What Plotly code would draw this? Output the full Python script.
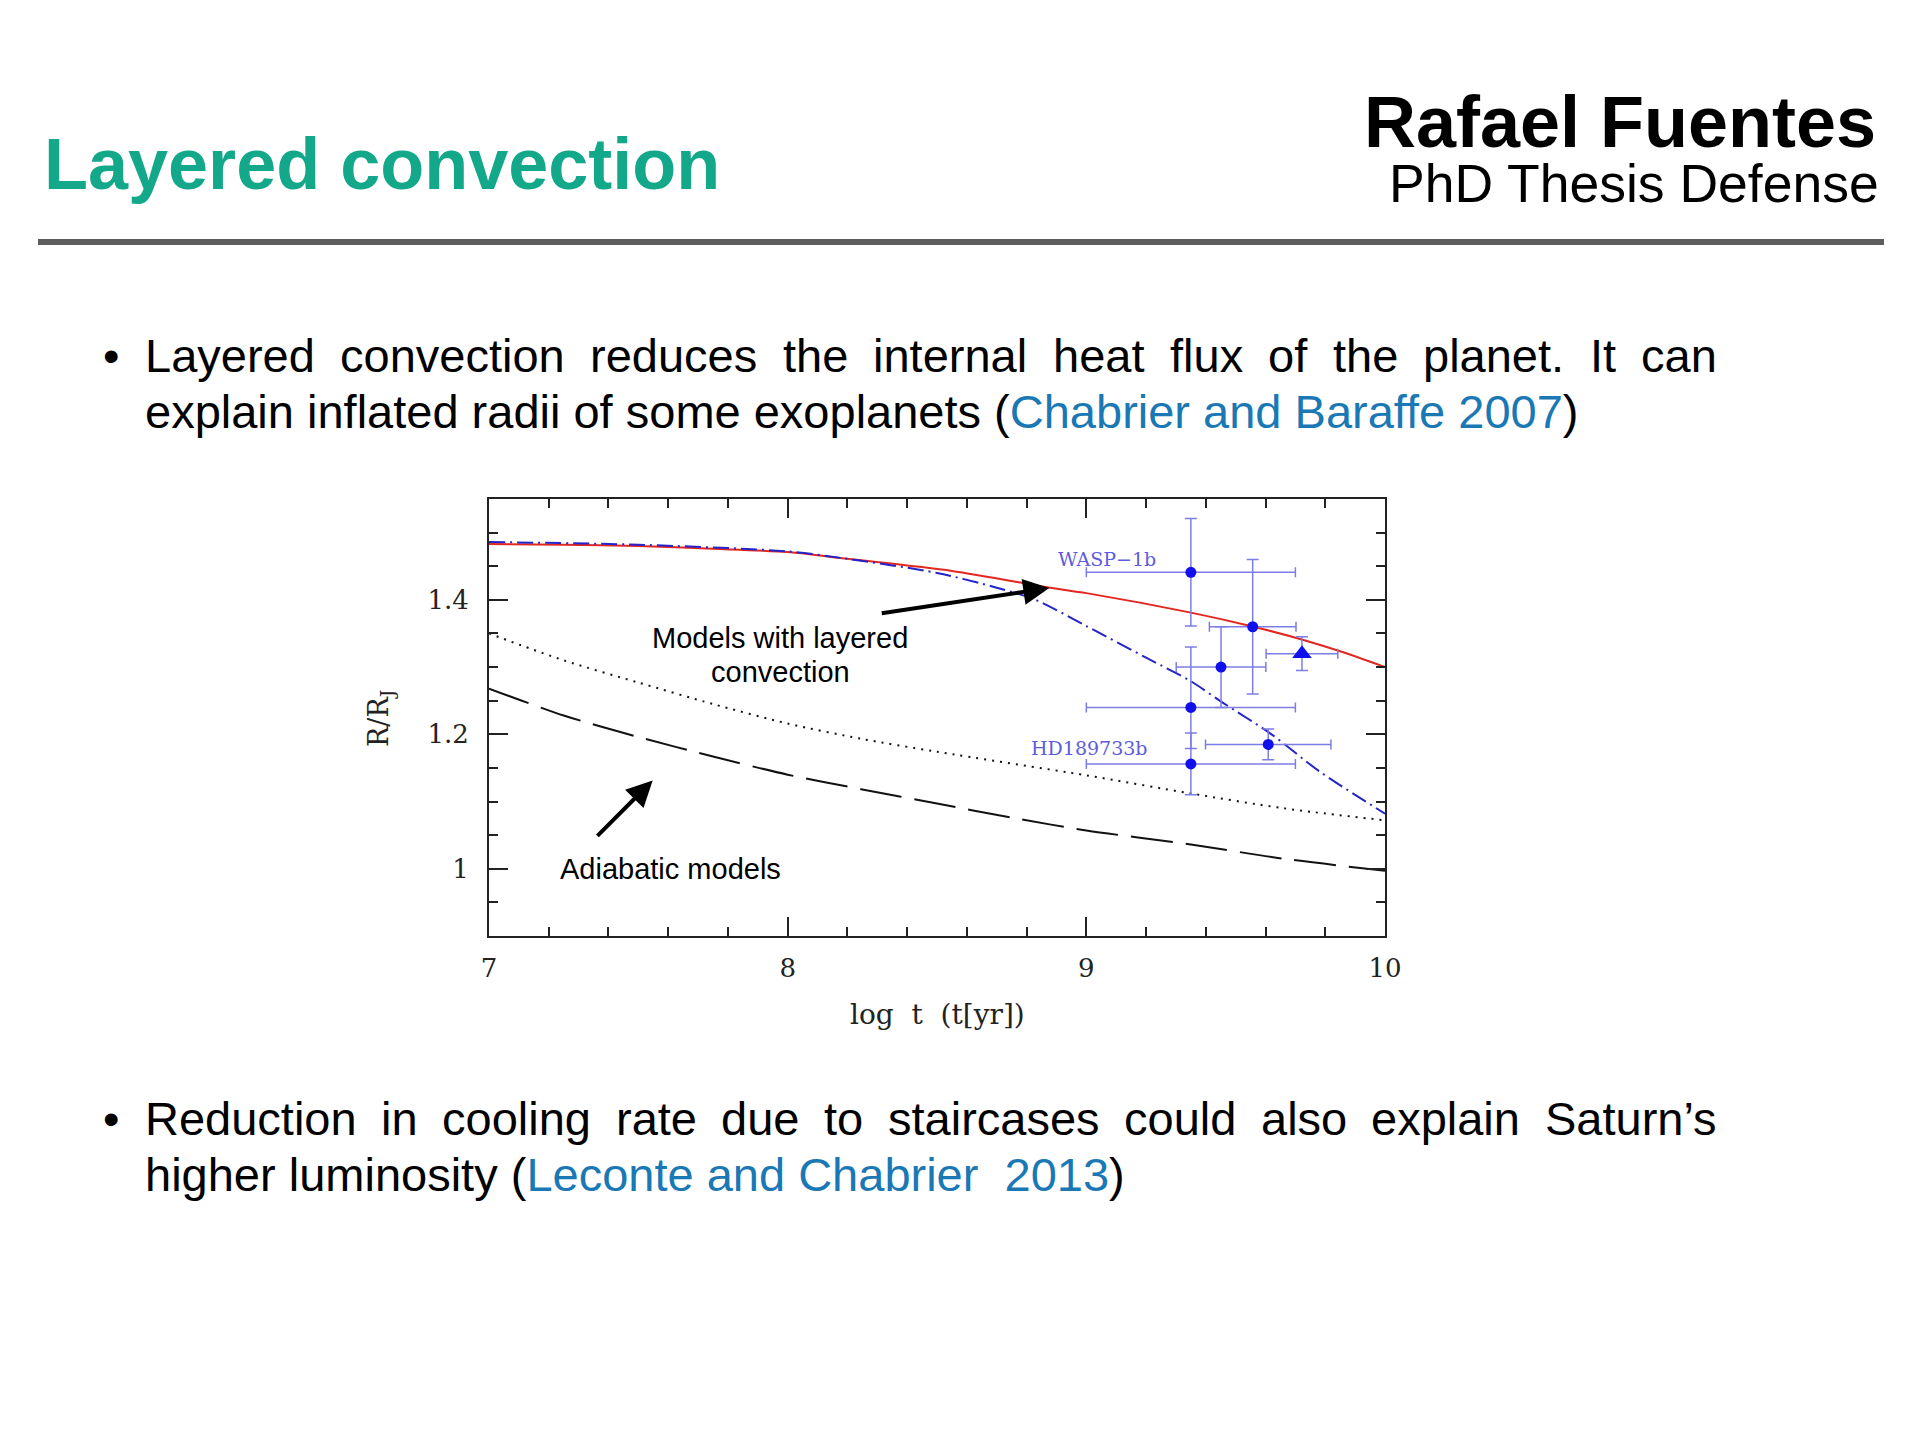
import plotly.graph_objects as go

# ---------------- data ----------------
# red solid: model with layered convection
logt_red = [7.0, 7.25, 7.5, 7.75, 8.0, 8.2, 8.55, 8.88, 9.0, 9.35, 9.56, 9.73, 9.86, 10.0]
r_red = [1.483, 1.482, 1.480, 1.476, 1.471, 1.461, 1.443, 1.418, 1.410, 1.381, 1.360, 1.340, 1.322, 1.300]

# blue dash-dot: model with layered convection
logt_blue = [7.0, 7.5, 8.0, 8.2, 8.5, 8.7, 8.83, 9.0, 9.2, 9.35, 9.45, 9.62, 9.78, 10.0]
r_blue = [1.486, 1.482, 1.472, 1.461, 1.440, 1.418, 1.400, 1.361, 1.314, 1.279, 1.249, 1.200, 1.145, 1.082]

# black dotted: adiabatic model
logt_dot = [7.0, 7.25, 7.5, 7.75, 8.0, 8.25, 8.5, 9.0, 9.35, 9.66, 10.0]
r_dot = [1.350, 1.310, 1.277, 1.245, 1.216, 1.193, 1.174, 1.139, 1.112, 1.090, 1.072]

# black long-dashed: adiabatic model
logt_dash = [7.0, 7.25, 7.5, 7.75, 8.0, 8.25, 8.5, 8.75, 9.0, 9.35, 9.66, 10.0]
r_dash = [1.268, 1.228, 1.196, 1.167, 1.140, 1.118, 1.097, 1.076, 1.057, 1.036, 1.015, 0.997]

# observed planets (filled circles)
obs_logt = [9.35, 9.557, 9.451, 9.35, 9.35, 9.609]
obs_r = [1.441, 1.360, 1.300, 1.240, 1.156, 1.185]
obs_xerr = [0.35, 0.145, 0.15, 0.35, 0.35, 0.21]
obs_yerr_plus = [0.08, 0.10, 0.06, 0.09, 0.046, 0.023]
obs_yerr_minus = [0.08, 0.10, 0.06, 0.061, 0.046, 0.023]

# triangle point
tri_logt = [9.722]
tri_r = [1.320]
tri_xerr = [0.12]
tri_yerr = [0.025]

x_range = [7, 10]
y_range = [0.9, 1.55]
x_ticks = [7, 8, 9, 10]
y_ticks = [1.0, 1.2, 1.4]
y_ticktext = ["1", "1.2", "1.4"]

# ---------------- layout geometry ----------------
FW, FH = 1920, 1440
L, R, T, B = 488, 1384, 497, 934
PW, PH = R - L, B - T
SX, SY = 7, 6   # compensation for the page's body margin


def px(x):
    return (x - L) / PW


def py(y):
    return (B - y) / PH


BLACK = "#111111"
RED = "#e3261f"
BLUE_LINE = "#2424c8"
BLUE_PT = "#1010ee"
BLUE_ERR = "#7d7de6"
BLUE_LBL = "#5c5ce0"
GREEN = "#14a88a"
CITE = "#1a78b4"
SERIF = "DejaVu Serif"
SANS = "Liberation Sans"

fig = go.Figure()

fig.add_trace(go.Scatter(x=logt_dash, y=r_dash, mode="lines",
                         line=dict(color=BLACK, width=2, dash="42px,13px", shape="spline", smoothing=0.8)))
fig.add_trace(go.Scatter(x=logt_dot, y=r_dot, mode="lines",
                         line=dict(color=BLACK, width=2, dash="2px,6px", shape="spline", smoothing=0.8)))
fig.add_trace(go.Scatter(x=logt_red, y=r_red, mode="lines",
                         line=dict(color=RED, width=2, shape="spline", smoothing=0.8)))
fig.add_trace(go.Scatter(x=logt_blue, y=r_blue, mode="lines",
                         line=dict(color=BLUE_LINE, width=2, dash="16px,5px,2px,5px",
                                   shape="spline", smoothing=0.8)))

fig.add_trace(go.Scatter(
    x=obs_logt, y=obs_r, mode="markers",
    marker=dict(symbol="circle", size=11, color=BLUE_PT),
    error_x=dict(type="data", array=obs_xerr, color=BLUE_ERR, thickness=1.5, width=5),
    error_y=dict(type="data", array=obs_yerr_plus, arrayminus=obs_yerr_minus,
                 color=BLUE_ERR, thickness=1.5, width=6),
))
fig.add_trace(go.Scatter(
    x=tri_logt, y=tri_r, mode="markers",
    marker=dict(symbol="triangle-up", size=17, color=BLUE_PT),
    error_x=dict(type="data", array=tri_xerr, color=BLUE_ERR, thickness=1.5, width=5),
    error_y=dict(type="data", array=tri_yerr, color=BLUE_ERR, thickness=1.5, width=6),
))

axis_common = dict(
    showgrid=False, zeroline=False, showline=True, linecolor="#222222", linewidth=2,
    mirror="ticks", ticks="inside", tickcolor="#222222", tickwidth=1.5, ticklen=19,
    tickfont=dict(family=SERIF, size=26, color="#222222"),
)

fig.update_xaxes(range=x_range, tickvals=x_ticks, ticklabelstandoff=8,
                 minor=dict(ticks="inside", ticklen=9, dtick=0.2, tick0=7,
                            tickcolor="#222222", tickwidth=1.5, showgrid=False),
                 **axis_common)
fig.update_yaxes(range=y_range, tickvals=y_ticks, ticktext=y_ticktext, ticklabelstandoff=13,
                 minor=dict(ticks="inside", ticklen=9, dtick=0.05, tick0=0.9,
                            tickcolor="#222222", tickwidth=1.5, showgrid=False),
                 **axis_common)


def text(x, yc, s, size, color="#000000", family=SANS, anchor="left", weight="normal", angle=0):
    fig.add_annotation(xref="paper", yref="paper", x=px(x), y=py(yc), text=s,
                       showarrow=False, xanchor=anchor, yanchor="middle", textangle=angle,
                       font=dict(family=family, size=size, color=color, weight=weight))


def base(baseline, size):
    return baseline - 0.3465 * size


# ---- slide header ----
text(41, base(187, 72), "Layered convection", 72, GREEN, weight="bold")
text(1877, base(145, 72), "Rafael Fuentes", 72, "#000000", anchor="right", weight="bold")
text(1880, base(200, 53.5), "PhD Thesis Defense", 53.5, "#000000", anchor="right")
fig.add_shape(type="rect", xref="paper", yref="paper", x0=px(37), x1=px(1883),
              y0=py(243), y1=py(237), fillcolor="#5e5e5e", line=dict(width=0))

# ---- bullet text (justified first lines) ----
ARIAL = {'a': 556, 'b': 556, 'c': 500, 'd': 556, 'e': 556, 'f': 278, 'g': 556, 'h': 556,
         'i': 222, 'j': 222, 'k': 500, 'l': 222, 'm': 833, 'n': 556, 'o': 556, 'p': 556,
         'q': 556, 'r': 333, 's': 500, 't': 278, 'u': 556, 'v': 500, 'w': 722, 'x': 500,
         'y': 500, 'z': 500, 'L': 556, 'I': 278, 'R': 722, 'S': 667, 'C': 722, 'B': 667,
         '.': 278, '\u2019': 222, "'": 191, ' ': 278, '(': 333, ')': 333}
FS = 47
LEFT, RIGHT = 142, 1714


def justified(words, yc):
    widths = [sum(ARIAL.get(c, 556) for c in w) * FS / 1000 for w in words]
    gap = (RIGHT - LEFT - sum(widths)) / (len(words) - 1)
    x = LEFT
    for w, wd in zip(words, widths):
        text(x, yc, w, FS, "#000000")
        x += wd + gap


line1a = "Layered convection reduces the internal heat flux of the planet. It can".split()
line2a = ("explain inflated radii of some exoplanets "
          f"(<span style='color:{CITE}'>Chabrier and Baraffe 2007</span>)")
line1b = "Reduction in cooling rate due to staircases could also explain Saturn\u2019s".split()
line2b = ("higher luminosity "
          f"(<span style='color:{CITE}'>Leconte and Chabrier\u00a0 2013</span>)")

text(110, base(370, FS), "\u2022", FS, "#000000", anchor="center")
justified(line1a, base(370, FS))
text(LEFT, base(426, FS), line2a, FS, "#000000")

text(110, base(1133, FS), "\u2022", FS, "#000000", anchor="center")
justified(line1b, base(1133, FS))
text(LEFT, base(1189, FS), line2b, FS, "#000000")

# ---- chart annotations ----
text(779, base(646, 29), "Models with layered", 29, "#000000", anchor="center")
text(779, base(680, 29), "convection", 29, "#000000", anchor="center")
text(669, base(877, 29), "Adiabatic models", 29, "#000000", anchor="center")

text(936, base(1022, 28), "log\u00a0 t\u00a0 (t[yr])", 28, "#222222", family=SERIF, anchor="center")
text(379, 717, "R/R<sub>J</sub>", 27, "#222222", family=SERIF, anchor="center", angle=-90)

fig.add_annotation(xref="x", yref="y", x=9.07, y=1.461, text="WASP\u22121b", showarrow=False,
                   font=dict(family=SERIF, size=19, color=BLUE_LBL))
fig.add_annotation(xref="x", yref="y", x=9.01, y=1.18, text="HD189733b", showarrow=False,
                   font=dict(family=SERIF, size=19, color=BLUE_LBL))

# arrows (head, tail)
fig.add_annotation(xref="x", yref="y", axref="x", ayref="y", x=8.876, y=1.4175,
                   ax=8.31, ay=1.3796, text="", showarrow=True, arrowhead=2,
                   arrowsize=1.3, arrowwidth=4, arrowcolor="#000000")
fig.add_annotation(xref="x", yref="y", axref="x", ayref="y", x=7.548, y=1.1313,
                   ax=7.358, ay=1.0467, text="", showarrow=True, arrowhead=2,
                   arrowsize=1.3, arrowwidth=4, arrowcolor="#000000")

fig.update_layout(
    width=FW, height=FH, showlegend=False,
    paper_bgcolor="white", plot_bgcolor="white",
    margin=dict(l=L - SX, r=FW - R + SX, t=T - SY, b=FH - B + SY, pad=0, autoexpand=False),
)

fig.write_html("out.html")
